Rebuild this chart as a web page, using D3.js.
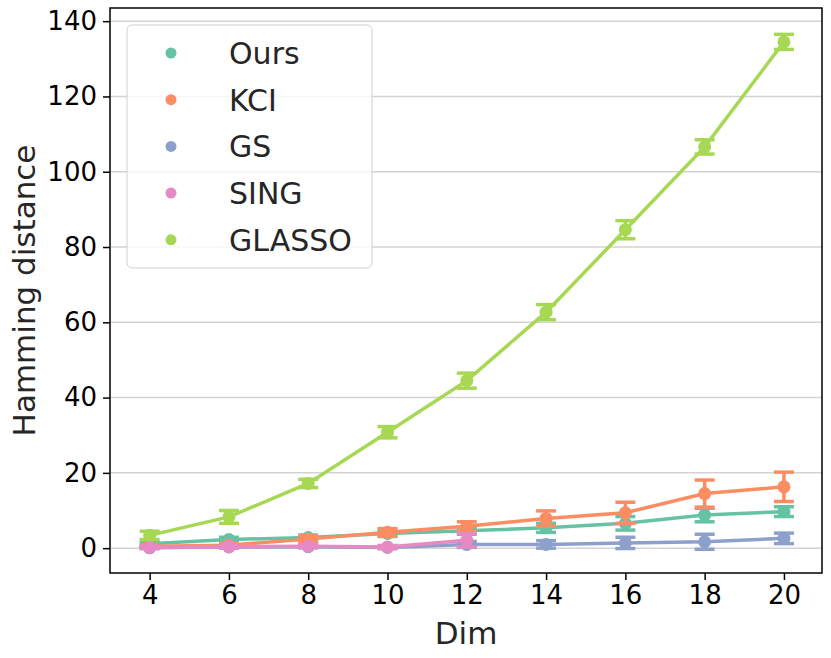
<!DOCTYPE html>
<html>
<head>
<meta charset="utf-8">
<script src="https://cdn.jsdelivr.net/npm/d3@7"></script>
<style>
  body { margin: 0; background: #fff; }
  text { font-family: "DejaVu Sans", sans-serif; }
  .tick text { font-size: 26px; fill: #000; }
  .axislabel { font-size: 31px; fill: #262626; }
  .legend text { font-size: 30px; fill: #262626; }
</style>
</head>
<body>
<div id="plot"></div>
<script>
// x categories
var dims = [4, 6, 8, 10, 12, 14, 16, 18, 20];
var yTicks = [0, 20, 40, 60, 80, 100, 120, 140];

// series values (mean and error)
var oursMean   = [1.2, 2.3, 2.8, 3.9, 4.6, 5.4, 6.6, 8.8, 9.7];
var oursErr    = [0.5, 0.6, 0.7, 0.8, 0.9, 1.2, 1.8, 1.8, 1.3];
var kciMean    = [0.5, 0.8, 2.4, 4.2, 5.8, 7.9, 9.4, 14.5, 16.3];
var kciErr     = [0.4, 0.5, 0.9, 1.0, 1.2, 2.0, 2.8, 3.6, 3.9];
var gsMean     = [0.1, 0.3, 0.4, 0.2, 1.0, 1.0, 1.4, 1.7, 2.6];
var gsErr      = [0.2, 0.3, 0.3, 0.3, 0.8, 1.0, 1.5, 2.0, 1.4];
var singMean   = [0.2, 0.4, 0.5, 0.3, 2.1];
var singErr    = [0.3, 0.4, 0.4, 0.4, 1.8];
var glassoMean = [3.4, 8.3, 17.2, 30.8, 44.5, 62.7, 84.6, 106.6, 134.5];
var glassoErr  = [1.1, 1.7, 1.1, 1.5, 2.0, 2.0, 2.4, 1.9, 2.0];

var names  = ["Ours", "KCI", "GS", "SING", "GLASSO"];
var means  = [oursMean, kciMean, gsMean, singMean, glassoMean];
var errs   = [oursErr, kciErr, gsErr, singErr, glassoErr];
var colors = ["#66c2a5", "#fc8d62", "#8da0cb", "#e78ac3", "#a6d854"];

var W = 831, H = 658;
var margin = {top: 8, right: 9, bottom: 85, left: 110};
var width = W - margin.left - margin.right,
    height = H - margin.top - margin.bottom;

var svg = d3.select("#plot").append("svg")
    .attr("width", W).attr("height", H)
  .append("g")
    .attr("transform", `translate(${margin.left},${margin.top})`);

var x = d3.scaleLinear().domain([3, 20.96]).range([0, width]);
var y = d3.scaleLinear().domain([-6.6, 143.5]).range([height, 0]);

// grid
svg.append("g")
  .selectAll("line").data(yTicks).join("line")
    .attr("x1", 0).attr("x2", width)
    .attr("y1", d => y(d)).attr("y2", d => y(d))
    .attr("stroke", "#d3d3d3").attr("stroke-width", 1.5);

// axes
var xAxis = svg.append("g")
    .attr("transform", `translate(0,${height})`)
    .call(d3.axisBottom(x).tickValues(dims).tickSize(7).tickPadding(6).tickFormat(d3.format("d")));
var yAxis = svg.append("g")
    .call(d3.axisLeft(y).tickValues(yTicks).tickSize(7).tickPadding(6));
[xAxis, yAxis].forEach(a => {
  a.select(".domain").remove();
  a.selectAll(".tick line").attr("stroke", "#000").attr("stroke-width", 1.5);
});

// frame
svg.append("rect")
    .attr("width", width).attr("height", height)
    .attr("fill", "none").attr("stroke", "#000").attr("stroke-width", 1.5);

// labels
svg.append("text").attr("class", "axislabel")
    .attr("text-anchor", "middle")
    .attr("x", width / 2).attr("y", height + 71)
    .text("Dim");
svg.append("text").attr("class", "axislabel")
    .attr("text-anchor", "middle")
    .attr("transform", "rotate(-90)")
    .attr("x", -height / 2).attr("y", -75)
    .text("Hamming distance");

// series
var line = d3.line().x(d => x(d.x)).y(d => y(d.y));
var cap = 10;

names.forEach(function(name, k) {
  var pts = means[k].map((m, i) => ({x: dims[i], y: m, e: errs[k][i]}));
  var g = svg.append("g").attr("stroke", colors[k]).attr("fill", colors[k]);

  g.append("path").datum(pts)
      .attr("fill", "none").attr("stroke-width", 3.5)
      .attr("d", line);

  var eb = g.selectAll(".eb").data(pts).join("g").attr("stroke-width", 3.5);
  eb.append("line")
      .attr("x1", d => x(d.x)).attr("x2", d => x(d.x))
      .attr("y1", d => y(d.y - d.e)).attr("y2", d => y(d.y + d.e));
  eb.append("line")
      .attr("x1", d => x(d.x) - cap).attr("x2", d => x(d.x) + cap)
      .attr("y1", d => y(d.y + d.e)).attr("y2", d => y(d.y + d.e));
  eb.append("line")
      .attr("x1", d => x(d.x) - cap).attr("x2", d => x(d.x) + cap)
      .attr("y1", d => y(d.y - d.e)).attr("y2", d => y(d.y - d.e));

  g.selectAll("circle").data(pts).join("circle")
      .attr("stroke", "none")
      .attr("cx", d => x(d.x)).attr("cy", d => y(d.y)).attr("r", 6.5);
});

// legend
var leg = svg.append("g").attr("class", "legend")
    .attr("transform", "translate(17,17)");
leg.append("rect")
    .attr("width", 245).attr("height", 243).attr("rx", 5)
    .attr("fill", "#fff").attr("fill-opacity", 0.8)
    .attr("stroke", "#d0d0d0").attr("stroke-width", 1);
names.forEach(function(name, k) {
  var row = leg.append("g").attr("transform", `translate(0,${28 + k * 46.7})`);
  row.append("circle").attr("cx", 44).attr("cy", 0).attr("r", 5.5).attr("fill", colors[k]);
  row.append("text").attr("x", 102).attr("y", 11).text(name);
});
</script>
</body>
</html>
